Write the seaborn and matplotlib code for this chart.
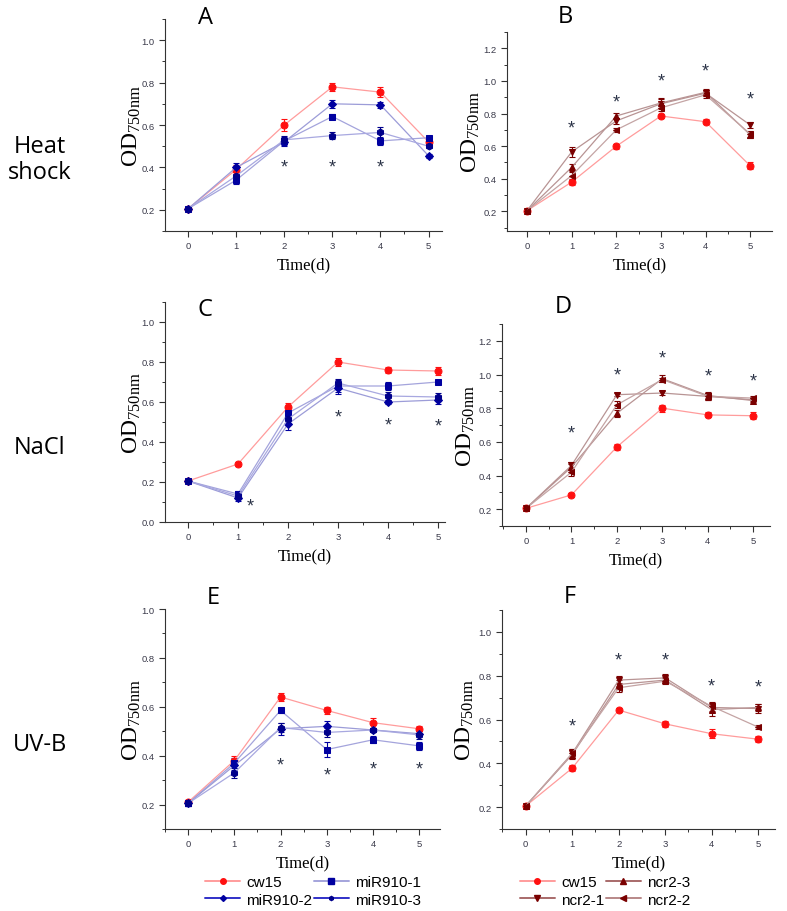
import matplotlib
matplotlib.use("Agg")
import matplotlib.pyplot as plt
from matplotlib.lines import Line2D
from matplotlib.ticker import MultipleLocator
import seaborn as sns

# Data
days = [0, 1, 2, 3, 4, 5]

# A: heat shock, miR910 lines
a_cw15 = [0.205, 0.39, 0.60, 0.78, 0.755, 0.52]
a_cw15_err = [0.005, 0.02, 0.03, 0.02, 0.025, 0.01]
a_mir1 = [0.205, 0.34, 0.525, 0.64, 0.525, 0.54]
a_mir1_err = [0.005, 0.02, 0.02, 0.01, 0.02, 0.01]
a_mir2 = [0.205, 0.40, 0.52, 0.70, 0.695, 0.455]
a_mir2_err = [0.005, 0.02, 0.02, 0.02, 0.015, 0.01]
a_mir3 = [0.205, 0.36, 0.53, 0.55, 0.565, 0.50]
a_mir3_err = [0.005, 0.02, 0.02, 0.015, 0.025, 0.01]
a_star_x = [2, 3, 4]
a_star_y = [0.40, 0.40, 0.40]

# B: heat shock, ncr2 lines
b_cw15 = [0.205, 0.38, 0.60, 0.785, 0.75, 0.48]
b_cw15_err = [0.01, 0.015, 0.015, 0.01, 0.015, 0.02]
b_ncr1 = [0.205, 0.565, 0.755, 0.86, 0.925, 0.73]
b_ncr1_err = [0.01, 0.03, 0.02, 0.03, 0.02, 0.02]
b_ncr3 = [0.205, 0.47, 0.785, 0.865, 0.93, 0.67]
b_ncr3_err = [0.01, 0.02, 0.02, 0.03, 0.02, 0.02]
b_ncr2 = [0.205, 0.42, 0.70, 0.835, 0.915, 0.675]
b_ncr2_err = [0.01, 0.02, 0.01, 0.02, 0.02, 0.02]
b_star_x = [1, 2, 3, 4, 5]
b_star_y = [0.71, 0.87, 1.00, 1.06, 0.89]

# C: NaCl, miR910 lines
c_cw15 = [0.205, 0.29, 0.575, 0.80, 0.76, 0.755]
c_cw15_err = [0.01, 0.01, 0.02, 0.02, 0.015, 0.02]
c_mir1 = [0.205, 0.14, 0.545, 0.68, 0.68, 0.70]
c_mir1_err = [0.01, 0.015, 0.025, 0.03, 0.02, 0.01]
c_mir2 = [0.205, 0.12, 0.49, 0.67, 0.60, 0.61]
c_mir2_err = [0.01, 0.015, 0.03, 0.03, 0.01, 0.02]
c_mir3 = [0.205, 0.13, 0.515, 0.695, 0.63, 0.625]
c_mir3_err = [0.01, 0.015, 0.02, 0.02, 0.02, 0.02]
c_star_x = [1.25, 3, 4, 5]
c_star_y = [0.08, 0.525, 0.485, 0.48]

# D: NaCl, ncr2 lines
d_cw15 = [0.205, 0.285, 0.57, 0.80, 0.76, 0.755]
d_cw15_err = [0.01, 0.01, 0.02, 0.02, 0.015, 0.02]
d_ncr1 = [0.205, 0.46, 0.88, 0.89, 0.87, 0.85]
d_ncr1_err = [0.01, 0.02, 0.01, 0.01, 0.02, 0.01]
d_ncr3 = [0.205, 0.45, 0.77, 0.975, 0.875, 0.845]
d_ncr3_err = [0.01, 0.02, 0.02, 0.02, 0.02, 0.01]
d_ncr2 = [0.205, 0.42, 0.82, 0.97, 0.87, 0.86]
d_ncr2_err = [0.01, 0.02, 0.02, 0.01, 0.02, 0.01]
d_star_x = [1, 2, 3, 4, 5]
d_star_y = [0.65, 1.00, 1.10, 0.99, 0.96]

# E: UV-B, miR910 lines
e_cw15 = [0.21, 0.38, 0.64, 0.585, 0.535, 0.51]
e_cw15_err = [0.01, 0.02, 0.015, 0.015, 0.02, 0.01]
e_mir1 = [0.205, 0.37, 0.585, 0.425, 0.465, 0.44]
e_mir1_err = [0.01, 0.02, 0.01, 0.03, 0.015, 0.015]
e_mir2 = [0.205, 0.36, 0.51, 0.52, 0.505, 0.49]
e_mir2_err = [0.01, 0.02, 0.025, 0.02, 0.01, 0.01]
e_mir3 = [0.205, 0.33, 0.515, 0.495, 0.505, 0.485]
e_mir3_err = [0.01, 0.02, 0.02, 0.02, 0.01, 0.015]
e_star_x = [2, 3, 4, 5]
e_star_y = [0.36, 0.32, 0.345, 0.345]

# F: UV-B, ncr2 lines
f_cw15 = [0.205, 0.378, 0.643, 0.58, 0.535, 0.51]
f_cw15_err = [0.01, 0.015, 0.01, 0.015, 0.02, 0.015]
f_ncr1 = [0.205, 0.445, 0.78, 0.79, 0.655, 0.65]
f_ncr1_err = [0.01, 0.02, 0.02, 0.02, 0.02, 0.02]
f_ncr3 = [0.205, 0.44, 0.76, 0.78, 0.645, 0.655]
f_ncr3_err = [0.01, 0.02, 0.02, 0.015, 0.03, 0.015]
f_ncr2 = [0.205, 0.445, 0.745, 0.775, 0.66, 0.565]
f_ncr2_err = [0.01, 0.02, 0.02, 0.015, 0.02, 0.01]
f_star_x = [1, 2, 3, 4, 5]
f_star_y = [0.57, 0.87, 0.87, 0.755, 0.75]

row_labels = ["Heat\nshock", "NaCl", "UV-B"]
mir_names = ["cw15", "miR910-1", "miR910-2", "miR910-3"]
ncr_names = ["cw15", "ncr2-1", "ncr2-3", "ncr2-2"]

# styles: line colour, marker, marker size, marker colour
cw_style = ("#ff9c9c", "o", 5, "#ff1010")
mir_styles = [("#a4a4dc", "s", 5, "#0000a0"),
              ("#9c9cd8", "D", 4, "#0000a0"),
              ("#a8a8e0", "h", 5, "#00008b")]
ncr_styles = [("#b89494", "v", 5, "#7a0000"),
              ("#b89494", "^", 5, "#7a0000"),
              ("#c4a4a4", "<", 5, "#7a0000")]

sns.set_style("ticks")
plt.rcParams["font.family"] = ["Liberation Sans", "DejaVu Sans"]
plt.rcParams["text.color"] = "black"
plt.rcParams["mathtext.fontset"] = "custom"
plt.rcParams["mathtext.rm"] = "Liberation Serif"
plt.rcParams["mathtext.it"] = "Liberation Serif:italic"

W, H = 787, 912
fig = plt.figure(figsize=(W / 100, H / 100), dpi=100)


def make_ax(left, right, top, bottom):
    return fig.add_axes([left / W, 1 - bottom / H, (right - left) / W, (bottom - top) / H])


def draw_series(ax, y, err, style):
    lc, mk, ms, mc = style
    ax.errorbar(days, y, yerr=err, fmt="none", ecolor=mc, elinewidth=0.8,
                capsize=2, capthick=0.8, zorder=2)
    sns.lineplot(x=days, y=y, ax=ax, color=lc, linewidth=0.9, marker=mk,
                 markersize=ms, markerfacecolor=mc, markeredgecolor=mc, zorder=3)


def style_ax(ax, xlim, ylim, yticks, ylab_x):
    ax.set_xlim(*xlim)
    ax.set_ylim(*ylim)
    ax.set_xticks(days)
    ax.set_yticks(yticks)
    ax.set_yticklabels([f"{t:.1f}" for t in yticks])
    ax.xaxis.set_minor_locator(MultipleLocator(0.5))
    ax.yaxis.set_minor_locator(MultipleLocator(0.1))
    ax.tick_params(which="major", length=4, width=0.8, labelsize=6.8,
                   colors="#333333", labelcolor="#3a3a4a")
    ax.tick_params(which="minor", length=2, width=0.7, colors="#333333")
    for s in ["top", "right"]:
        ax.spines[s].set_visible(False)
    for s in ["left", "bottom"]:
        ax.spines[s].set_linewidth(0.8)
        ax.spines[s].set_color("#333333")
    ax.set_xlabel("Time(d)", fontsize=12, family="Liberation Serif", labelpad=4,
                  color="black")
    ax.set_ylabel(r"$\mathrm{OD_{750nm}}$", fontsize=17, color="black")
    ax.yaxis.set_label_coords(ylab_x, 0.5)


def stars(ax, xs, ys, color="#2c3448"):
    for x, y in zip(xs, ys):
        ax.text(x, y, "*", ha="center", va="center", fontsize=13, color=color)


panels = [
    # letter, box, xlim, ylim, yticks, ylab, series, styles, stars, letter pos
    ("A", (165, 442, 20, 232), (-0.48, 5.28), (0.1, 1.1), [0.2, 0.4, 0.6, 0.8, 1.0], -0.08,
     [(a_cw15, a_cw15_err), (a_mir1, a_mir1_err), (a_mir2, a_mir2_err), (a_mir3, a_mir3_err)],
     mir_styles, (a_star_x, a_star_y), (205, 18)),
    ("B", (507, 772, 33, 232), (-0.45, 5.49), (0.08, 1.3), [0.2, 0.4, 0.6, 0.8, 1.0, 1.2], -0.095,
     [(b_cw15, b_cw15_err), (b_ncr1, b_ncr1_err), (b_ncr3, b_ncr3_err), (b_ncr2, b_ncr2_err)],
     ncr_styles, (b_star_x, b_star_y), (565, 17)),
    ("C", (165, 445, 303, 523), (-0.46, 5.14), (0.0, 1.1), [0.0, 0.2, 0.4, 0.6, 0.8, 1.0], -0.08,
     [(c_cw15, c_cw15_err), (c_mir1, c_mir1_err), (c_mir2, c_mir2_err), (c_mir3, c_mir3_err)],
     mir_styles, (c_star_x, c_star_y), (205, 310)),
    ("D", (502, 770, 325, 527), (-0.53, 5.37), (0.1, 1.3), [0.2, 0.4, 0.6, 0.8, 1.0, 1.2], -0.095,
     [(d_cw15, d_cw15_err), (d_ncr1, d_ncr1_err), (d_ncr3, d_ncr3_err), (d_ncr2, d_ncr2_err)],
     ncr_styles, (d_star_x, d_star_y), (563, 307)),
    ("E", (165, 440, 610, 830), (-0.5, 5.45), (0.1, 1.0), [0.2, 0.4, 0.6, 0.8, 1.0], -0.08,
     [(e_cw15, e_cw15_err), (e_mir1, e_mir1_err), (e_mir2, e_mir2_err), (e_mir3, e_mir3_err)],
     mir_styles, (e_star_x, e_star_y), (213, 598)),
    ("F", (502, 775, 611, 830), (-0.51, 5.36), (0.1, 1.1), [0.2, 0.4, 0.6, 0.8, 1.0], -0.095,
     [(f_cw15, f_cw15_err), (f_ncr1, f_ncr1_err), (f_ncr3, f_ncr3_err), (f_ncr2, f_ncr2_err)],
     ncr_styles, (f_star_x, f_star_y), (570, 597)),
]

for letter, box, xlim, ylim, yticks, ylab_x, series, styles, st, lpos in panels:
    ax = make_ax(*box)
    all_styles = [cw_style] + styles
    for (y, err), style in zip(series, all_styles):
        draw_series(ax, y, err, style)
    style_ax(ax, xlim, ylim, yticks, ylab_x)
    stars(ax, *st)
    fig.text(lpos[0] / W, 1 - lpos[1] / H, letter, ha="center", va="center",
             fontsize=17, family="Open Sans", color="black")

# row labels
for lab, yy in zip(row_labels, [160, 448, 745]):
    fig.text(40 / W, 1 - yy / H, lab, ha="center", va="center", fontsize=17,
             family="Open Sans", linespacing=1.1, color="black")


# legends
def handle(lc, mk, ms, mc):
    return Line2D([], [], color=lc, marker=mk, markersize=ms - 1,
                  markerfacecolor=mc, markeredgecolor=mc, linewidth=1.4)


left_handles = [handle(*cw_style), handle("#3030c8", "D", 4, "#0000a0"),
                handle(*mir_styles[0]), handle("#3030c8", "h", 4, "#00008b")]
left_labels = [mir_names[0], mir_names[2], mir_names[1], mir_names[3]]
leg1 = fig.legend(left_handles, left_labels, loc="center", bbox_to_anchor=(313 / W, 1 - 892 / H),
                  ncol=2, frameon=False, fontsize=11, handlelength=2.3, handletextpad=0.4,
                  columnspacing=0.1, labelspacing=0.2)

right_handles = [handle(*cw_style), handle("#a86a6a", "v", 5, "#7a0000"),
                 handle("#a86a6a", "^", 5, "#7a0000"), handle("#b88888", "<", 5, "#7a0000")]
right_labels = [ncr_names[0], ncr_names[1], ncr_names[2], ncr_names[3]]
leg2 = fig.legend(right_handles, right_labels, loc="center", bbox_to_anchor=(605 / W, 1 - 892 / H),
                  ncol=2, frameon=False, fontsize=11, handlelength=2.3, handletextpad=0.4,
                  columnspacing=0.1, labelspacing=0.2)
for leg in (leg1, leg2):
    for t in leg.get_texts():
        t.set_color("black")

fig.savefig("out.png", dpi=100)
